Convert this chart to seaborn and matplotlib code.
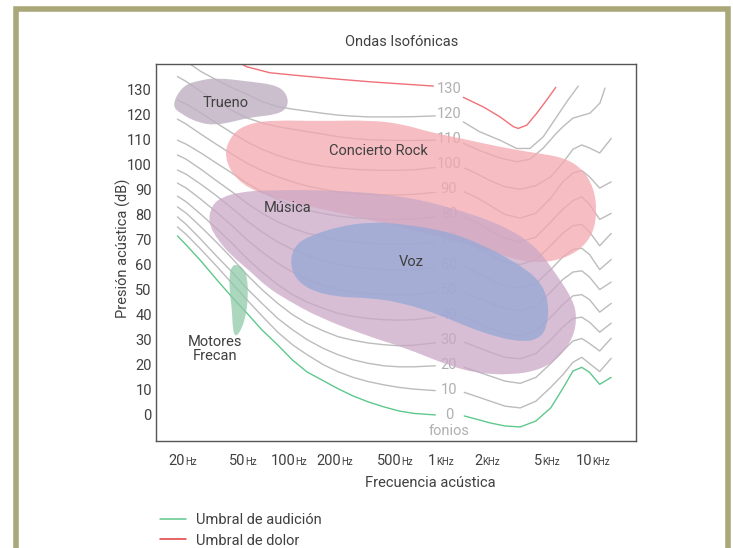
import numpy as np
import pandas as pd
import matplotlib
matplotlib.use("Agg")
import matplotlib.pyplot as plt
import seaborn as sns
from matplotlib.path import Path
from matplotlib.patches import PathPatch, Rectangle
from matplotlib.lines import Line2D
from matplotlib.offsetbox import TextArea, HPacker, AnnotationBbox

# ---------------- equal-loudness contours (dB SPL per phon level) ----------------
phon_levels = [0, 10, 20, 30, 40, 50, 60, 70, 80, 90, 100, 110, 120]

freq_low = [17.5, 20, 25, 31.5, 40, 50, 63, 80, 100, 125, 160, 200, 250, 315, 400, 500, 630, 870]
spl_low = {
    0:   [71.4, 67.8, 61.4, 54.2, 47.0, 40.7, 33.9, 27.9, 21.9, 17.1, 13.6, 10.4, 7.6, 5.2, 3.2, 1.6, 0.6, 0.0],
    10:  [75.0, 72.0, 66.0, 59.5, 52.5, 46.0, 39.5, 33.0, 28.0, 24.0, 20.0, 17.2, 15.0, 13.3, 12.0, 11.0, 10.3, 9.7],
    20:  [79.0, 76.0, 70.0, 63.5, 57.0, 50.5, 44.5, 38.5, 34.0, 30.0, 26.5, 24.0, 22.0, 20.6, 19.6, 19.2, 19.2, 19.6],
    30:  [83.0, 80.5, 75.0, 69.0, 62.5, 56.0, 50.0, 44.5, 40.0, 36.5, 33.5, 31.2, 29.8, 28.7, 28.0, 27.6, 27.8, 28.8],
    40:  [87.3, 85.0, 80.0, 74.5, 68.5, 62.5, 57.0, 52.0, 48.0, 45.0, 42.5, 40.5, 39.3, 38.5, 38.0, 37.8, 38.0, 39.0],
    50:  [92.5, 90.5, 86.0, 81.0, 75.5, 70.0, 65.0, 60.5, 57.0, 54.0, 51.5, 50.0, 49.0, 48.3, 48.0, 47.8, 48.0, 49.0],
    60:  [97.7, 96.0, 92.0, 87.5, 82.5, 77.5, 73.0, 69.0, 66.0, 63.5, 61.5, 60.0, 59.0, 58.4, 58.0, 57.8, 58.0, 59.0],
    70:  [103.7, 102.0, 98.0, 93.5, 89.0, 84.5, 80.5, 77.0, 74.5, 72.5, 71.0, 69.8, 69.0, 68.5, 68.2, 68.0, 68.2, 69.0],
    80:  [109.6, 108.0, 104.5, 100.5, 96.5, 92.5, 89.0, 86.0, 83.5, 81.7, 80.3, 79.3, 78.7, 78.3, 78.1, 78.0, 78.2, 79.0],
    90:  [118.0, 116.0, 112.0, 108.0, 104.0, 100.5, 97.5, 95.0, 93.0, 91.3, 90.0, 89.0, 88.4, 88.0, 87.8, 87.8, 88.0, 88.8],
    100: [125.6, 124.0, 120.5, 116.5, 112.5, 109.0, 106.0, 103.5, 101.7, 100.3, 99.2, 98.5, 98.0, 97.7, 97.6, 97.6, 97.8, 98.7],
    110: [135.0, 133.0, 129.0, 125.0, 121.5, 118.5, 116.5, 115.0, 114.0, 113.0, 112.0, 111.0, 110.3, 109.8, 109.6, 109.5, 109.5, 109.6],
    120: [143.5, 141.0, 137.0, 133.7, 130.5, 128.0, 125.0, 123.0, 122.0, 121.2, 120.3, 119.6, 119.2, 118.9, 118.9, 118.9, 119.0, 119.3],
}

freq_high = [1350, 1600, 2000, 2500, 3150, 4000, 5000, 6000, 7000, 8000, 9000, 10500, 12500]
spl_high = {
    0:   [-0.4, -1.6, -3.2, -4.4, -4.8, -2.4, 2.8, 10.5, 17.5, 19.0, 17.0, 12.2, 15.0],
    10:  [9.0, 7.5, 5.5, 3.5, 2.8, 5.5, 11.0, 16.0, 21.0, 23.0, 20.5, 17.3, 22.6],
    20:  [19.0, 17.5, 15.5, 13.5, 12.6, 15.0, 20.5, 25.5, 29.5, 30.5, 28.5, 25.5, 30.6],
    30:  [29.0, 27.3, 25.0, 23.0, 22.4, 24.5, 30.0, 35.0, 38.5, 39.0, 37.0, 33.0, 36.6],
    40:  [39.0, 37.0, 34.5, 32.5, 31.5, 33.5, 39.0, 44.0, 47.5, 48.0, 46.0, 41.0, 44.5],
    50:  [49.0, 47.0, 44.5, 42.5, 41.5, 43.5, 49.0, 54.0, 57.0, 57.5, 55.0, 50.0, 53.0],
    60:  [59.0, 57.0, 54.0, 51.5, 50.5, 52.5, 58.0, 63.0, 66.0, 66.5, 64.0, 58.0, 62.0],
    70:  [69.0, 67.0, 64.0, 61.0, 60.0, 62.0, 67.5, 72.5, 75.5, 76.0, 73.0, 67.5, 72.4],
    80:  [79.0, 77.0, 73.5, 70.5, 69.0, 71.0, 77.0, 82.0, 85.5, 87.0, 84.0, 78.0, 80.4],
    90:  [89.0, 87.0, 83.5, 80.0, 78.5, 80.5, 86.5, 93.0, 96.5, 97.5, 95.0, 90.5, 93.0],
    100: [98.5, 96.5, 93.5, 91.0, 90.0, 91.5, 95.0, 100.5, 106.0, 107.7, 106.5, 104.5, 110.3],
}
freq_high_110 = [1330, 1700, 2320, 3000, 3650, 4470, 5470, 6020, 7000, 9060, 10540, 11380]
spl_high_110 = [108.4, 105.5, 102.5, 101.0, 102.0, 106.5, 112.5, 115.0, 118.4, 120.4, 124.4, 130.4]
freq_high_120 = [1330, 1700, 2320, 2985, 3650, 4470, 5470, 6370, 7590]
spl_high_120 = [116.9, 113.0, 109.6, 106.3, 106.3, 111.0, 118.9, 124.9, 131.2]

# pain threshold (130 phon)
freq_pain_low = [40, 50, 71, 118, 195, 324, 535, 845]
spl_pain_low = [142.0, 138.9, 136.5, 135.2, 134.0, 132.9, 132.0, 131.2]
freq_pain_high = [1330, 1800, 2320, 2840, 3060, 3480, 4040, 4700, 5400]
spl_pain_high = [126.7, 122.9, 118.9, 115.0, 114.3, 115.6, 120.3, 125.6, 130.7]

# ---------------- sound-source regions (frequency, level outlines) ----------------
trueno_f = [16.0, 19.0, 24.6, 31.7, 52.5, 80.0, 93.0, 93.0, 78.7, 52.5, 40.8, 31.7, 24.6, 18.5]
trueno_db = [123.5, 131.5, 133.5, 134.5, 133.0, 131.5, 127.5, 122.5, 119.8, 118.7, 117.0, 115.7, 116.3, 120.0]

rock_f = [34.9, 40.0, 52.5, 76.7, 151.7, 323.6, 533.3, 802.8, 1264.5, 2318, 3939, 5929, 8027, 9629,
          10077, 9484, 7788, 5753, 3939, 2697, 1471, 690, 238.9, 82.8, 45.1]
rock_db = [102.9, 112.4, 116.4, 117.6, 117.2, 117.6, 116.0, 112.8, 110.4, 106.9, 104.5, 102.9, 98.5, 90.5,
           80.9, 72.2, 65.8, 61.8, 60.6, 62.6, 67.8, 73.0, 79.7, 85.7, 91.7]

musica_f = [27.8, 29.5, 34.4, 45.1, 67.9, 196.3, 533.3, 1087, 2318, 3939, 5497, 7005, 7441, 7005,
            5753, 4249, 2697, 1636, 1087, 533.3, 323.6, 151.7, 92.0, 67.9, 52.5, 40.6, 32.1]
musica_db = [77.0, 83.7, 86.9, 88.9, 89.7, 89.7, 87.3, 82.9, 76.2, 67.8, 55.8, 45.9, 38.7, 30.7,
             23.1, 17.9, 15.9, 16.7, 19.5, 27.1, 31.1, 38.7, 45.9, 51.0, 57.4, 63.0, 69.8]

voz_f = [96.3, 103.8, 130.3, 196.3, 323.6, 533.3, 1087, 1847, 2910, 4249, 4870, 4724, 4249, 3385,
         2318, 1471, 934, 533.3, 323.6, 196.3, 130.3, 103.8]
voz_db = [61.0, 67.8, 71.4, 75.0, 77.0, 76.2, 73.0, 67.4, 61.0, 53.8, 44.7, 35.1, 30.7, 29.1,
          30.7, 34.7, 39.9, 44.7, 46.7, 47.0, 49.8, 54.6]

motores_f = [43.0, 47.5, 50.5, 51.0, 49.5, 46.5, 42.5, 40.5, 40.0, 38.5, 38.5, 40.0]
motores_db = [60.0, 58.5, 55.0, 47.0, 40.0, 34.5, 31.0, 33.5, 42.0, 50.0, 56.0, 59.5]

region_labels = ["Trueno", "Concierto Rock", "Música", "Voz", "Motores\nFrecan"]
region_label_f = [36.5, 367, 93.1, 605, 31.1]
region_label_db = [124.4, 105.3, 82.4, 61.1, 26.2]

# ---------------- axis ticks ----------------
y_ticks = [0, 10, 20, 30, 40, 50, 60, 70, 80, 90, 100, 110, 120, 130]
x_ticks = [20, 50, 100, 200, 500, 1000, 2000, 5000, 10000]
x_tick_num = ["20", "50", "100", "200", "500", "1", "2", "5", "10"]
x_tick_unit = ["Hz", "Hz", "Hz", "Hz", "Hz", "KHz", "KHz", "KHz", "KHz"]

# ---------------- style ----------------
sns.set_theme(style="white")
plt.rcParams["font.family"] = ["Roboto", "DejaVu Sans"]
TXT = "#404040"
GREY = "#bcbcbc"
GREEN = "#5fc88c"
RED = "#f07078"
FS = 10.5

fig = plt.figure(figsize=(7.33, 5.48), dpi=100)
ax = fig.add_axes([156 / 733, 1 - 441 / 548, 480 / 733, 377 / 548])

# long-format table of contour segments
rows = []
for p in phon_levels:
    kind = "audicion" if p == 0 else "iso"
    for f, v in zip(freq_low, spl_low[p]):
        rows.append((f, v, f"{p}a", kind))
    if p in spl_high:
        hf, hv = freq_high, spl_high[p]
    elif p == 110:
        hf, hv = freq_high_110, spl_high_110
    else:
        hf, hv = freq_high_120, spl_high_120
    for f, v in zip(hf, hv):
        rows.append((f, v, f"{p}b", kind))
for f, v in zip(freq_pain_low, spl_pain_low):
    rows.append((f, v, "130a", "dolor"))
for f, v in zip(freq_pain_high, spl_pain_high):
    rows.append((f, v, "130b", "dolor"))
curves = pd.DataFrame(rows, columns=["freq", "spl", "segment", "kind"])

sns.lineplot(data=curves, x="freq", y="spl", units="segment", estimator=None,
             hue="kind", palette={"iso": GREY, "audicion": GREEN, "dolor": RED},
             sort=False, legend=False, linewidth=1.0, ax=ax, zorder=1)

ax.set_xscale("log")
ax.set_xlim(12.65, 18200)
ax.set_ylim(-10.4, 140)

# phon labels at 1 kHz
for p in phon_levels + [130]:
    ax.text(1070, p, str(p), ha="center", va="center", fontsize=FS,
            color="#b0b0b0", zorder=1.5)
ax.text(1070, -6.4, "fonios", ha="center", va="center", fontsize=FS,
        color="#b0b0b0", zorder=1.5)


def smooth_region(fx, dy):
    """Closed smooth outline: quadratic Beziers through the midpoints of the vertices."""
    lf = np.log10(fx)
    n = len(fx)
    mids = [(10 ** ((lf[i] + lf[(i + 1) % n]) / 2), (dy[i] + dy[(i + 1) % n]) / 2) for i in range(n)]
    verts = [mids[-1]]
    codes = [Path.MOVETO]
    for i in range(n):
        verts += [(fx[i], dy[i]), mids[i]]
        codes += [Path.CURVE3, Path.CURVE3]
    verts.append(mids[-1])
    codes.append(Path.CLOSEPOLY)
    return Path(verts, codes)


regions = [
    (rock_f, rock_db, "#f4a8af", 0.75),
    (trueno_f, trueno_db, "#beb0c2", 0.8),
    (musica_f, musica_db, "#caa8c7", 0.75),
    (voz_f, voz_db, "#99a9d6", 0.8),
    (motores_f, motores_db, "#8ecaa8", 0.75),
]
for i, (fx, dy, col, a) in enumerate(regions):
    ax.add_patch(PathPatch(smooth_region(fx, dy), facecolor=col, edgecolor="none",
                           alpha=a, zorder=2 + i * 0.1))

for lab, f, v in zip(region_labels, region_label_f, region_label_db):
    ax.text(f, v, lab, ha="center", va="center", fontsize=FS, color=TXT,
            linespacing=1.0, zorder=5)

# axes frame and ticks
for s in ax.spines.values():
    s.set_visible(True)
    s.set_color("#555555")
    s.set_linewidth(1.0)
ax.set_yticks(y_ticks)
ax.set_yticklabels([str(t) for t in y_ticks])
ax.tick_params(axis="y", length=0, pad=3, labelsize=FS, labelcolor=TXT)
ax.set_xticks(x_ticks)
ax.set_xticklabels([])
ax.tick_params(axis="x", which="both", length=0)
ax.minorticks_off()
ax.grid(False)

for f, num, unit in zip(x_ticks, x_tick_num, x_tick_unit):
    box = HPacker(children=[TextArea(num, textprops=dict(fontsize=FS, color=TXT)),
                            TextArea(unit, textprops=dict(fontsize=7, color=TXT))],
                  align="baseline", pad=0, sep=0)
    ax.add_artist(AnnotationBbox(box, (f, 0), xycoords=ax.get_xaxis_transform(),
                                 xybox=(-2.5, -14.5), boxcoords="offset points",
                                 box_alignment=(0.5, 0.5), frameon=False,
                                 annotation_clip=False))

ax.set_xlabel("Frecuencia acústica", fontsize=FS, color=TXT)
ax.xaxis.set_label_coords(0.571, -0.093)
ax.set_ylabel("Presión acústica (dB)", fontsize=FS, color=TXT)
ax.yaxis.set_label_coords(-0.0515, 0.51)

fig.text(401.5 / 733, 1 - 42 / 548, "Ondas Isofónicas", ha="center", va="center",
         fontsize=FS, color=TXT)

handles = [Line2D([], [], color=GREEN, lw=1.1), Line2D([], [], color="#e03a3a", lw=1.1)]
fig.legend(handles, ["Umbral de audición", "Umbral de dolor"], loc="upper left",
           bbox_to_anchor=(160 / 733, 1 - 513 / 548), frameon=False, fontsize=FS,
           handlelength=1.8, handletextpad=0.7, labelspacing=0.45, borderpad=0,
           borderaxespad=0, labelcolor=TXT)

# outer olive frame
fig.patches.append(Rectangle((15.8 / 733, -0.05), (728.2 - 15.8) / 733, 1.05 - 8.8 / 548,
                             transform=fig.transFigure, fill=False,
                             edgecolor="#aaa778", linewidth=4.0, zorder=0))

fig.savefig("out.png", dpi=100)
